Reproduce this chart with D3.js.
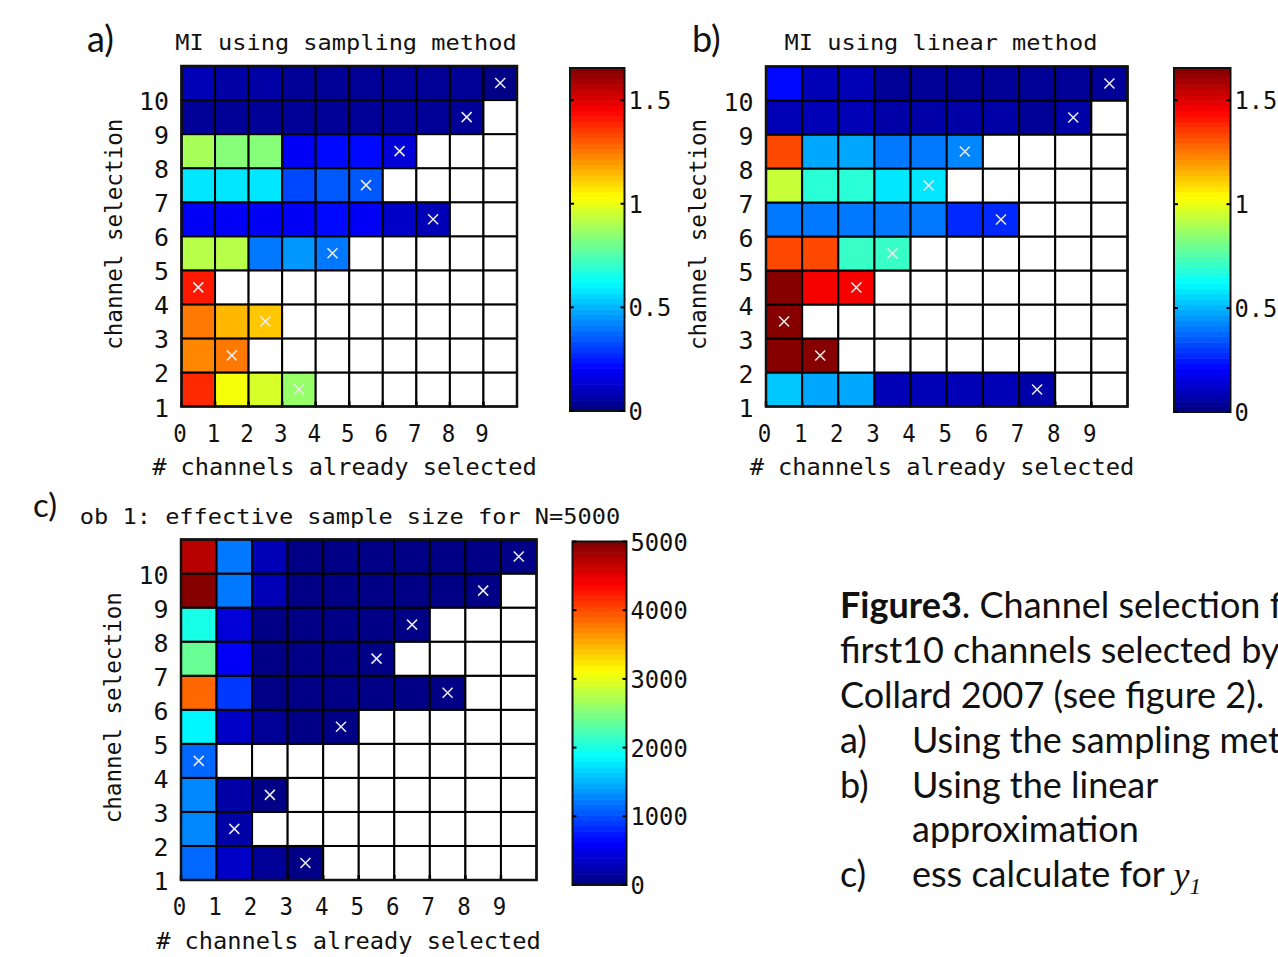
<!DOCTYPE html>
<html><head><meta charset="utf-8">
<script src="https://cdn.jsdelivr.net/npm/d3@7"></script>
<style>body{margin:0;background:#fff}svg{display:block}</style>
</head><body>
<svg id="fig" width="1278" height="957"></svg>
<script>
// ---------- data ----------
const xTicks = [0,1,2,3,4,5,6,7,8,9];
const yTicks = [1,2,3,4,5,6,7,8,9,10];
const N = null;
// rows listed from channel-selection row 1 (bottom) to row 10 (top); columns 0..9
const miSampling = [
  [1.39,1.03,0.98,0.87,N,N,N,N,N,N],
  [1.24,1.25,N,N,N,N,N,N,N,N],
  [1.25,1.14,1.12,N,N,N,N,N,N,N],
  [1.41,N,N,N,N,N,N,N,N,N],
  [0.93,0.93,0.41,0.45,0.40,N,N,N,N,N],
  [0.20,0.20,0.20,0.20,0.21,0.20,0.12,0.10,N,N],
  [0.59,0.59,0.59,0.33,0.34,0.35,N,N,N,N],
  [0.89,0.83,0.83,0.19,0.21,0.21,0.14,N,N,N],
  [0.03,0.03,0.03,0.03,0.03,0.03,0.03,0.03,0.04,N],
  [0.10,0.07,0.06,0.04,0.03,0.03,0.03,0.03,0.03,0.02]
];
const miLinear = [
  [0.54,0.49,0.49,0.08,0.08,0.08,0.08,0.07,N,N],
  [1.65,1.65,N,N,N,N,N,N,N,N],
  [1.65,N,N,N,N,N,N,N,N,N],
  [1.64,1.45,1.45,N,N,N,N,N,N,N],
  [1.32,1.32,0.70,0.70,N,N,N,N,N,N],
  [0.40,0.40,0.40,0.40,0.40,0.27,0.27,N,N,N],
  [0.94,0.68,0.68,0.57,0.57,N,N,N,N,N],
  [1.32,0.48,0.47,0.41,0.41,0.42,N,N,N,N],
  [0.08,0.08,0.08,0.07,0.07,0.07,0.06,0.05,0.06,N],
  [0.21,0.08,0.08,0.05,0.05,0.04,0.04,0.03,0.03,0.03]
];
const essValues = [
  [1160,350,90,60,N,N,N,N,N,N],
  [1300,210,N,N,N,N,N,N,N,N],
  [1280,210,60,N,N,N,N,N,N,N],
  [1110,N,N,N,N,N,N,N,N,N],
  [1870,350,90,60,60,N,N,N,N,N],
  [3900,870,60,60,60,60,60,60,N,N],
  [2360,550,60,60,60,60,N,N,N,N],
  [2000,450,60,60,60,60,60,N,N,N],
  [4940,1210,300,60,60,60,60,60,60,N],
  [4690,1210,300,60,60,60,60,60,60,60]
];
// column of the selected channel (x mark) per row 1..10
const marksSampling = [3,1,2,0,4,7,5,6,8,9];
const marksLinear   = [7,1,0,2,3,6,4,5,8,9];
const marksEss      = [3,1,2,0,4,7,5,6,8,9];
const miMax = 1.655, essMax = 5000;
const miCbTicks = [0,0.5,1,1.5];
const miCbLabels = ["0","0.5","1","1.5"];
const essCbTicks = [0,1000,2000,3000,4000,5000];
const essCbLabels = ["0","1000","2000","3000","4000","5000"];
const titles = ["MI using sampling method","MI using linear method","ob 1: effective sample size for N=5000"];
const xLabel = "# channels already selected";
const yLabel = "channel selection";
const panelLetters = ["a)","b)","c)"];

// ---------- drawing ----------
const svg = d3.select("#fig");
const MONO = "'DejaVu Sans Mono', 'Liberation Mono', monospace";
const TXT = "#111";

function jet(t){
  t = Math.max(0, Math.min(1, t));
  const q = Math.min(63, Math.floor(t*64));
  const tt = (q+0.5)/64;
  const f = v => Math.max(0, Math.min(1, v));
  return d3.rgb(255*f(1.5-Math.abs(4*tt-3)), 255*f(1.5-Math.abs(4*tt-2)), 255*f(1.5-Math.abs(4*tt-1))).formatHex();
}

function mono(g, str, x, y, anchor, size, cw){
  return g.append("text").attr("x", x).attr("y", y)
    .attr("text-anchor", anchor).attr("font-family", MONO)
    .attr("font-size", size).attr("fill", TXT)
    .attr("textLength", str.length*cw).attr("lengthAdjust","spacingAndGlyphs")
    .text(str);
}

function panel(cfg){
  const g = svg.append("g");
  const x = d3.scaleLinear().domain([0,10]).range([cfg.x0, cfg.x1]);
  const y = d3.scaleLinear().domain([1,11]).range([cfg.y1, cfg.y0]);
  const color = d3.scaleSequential(t => jet(t)).domain([0, cfg.max]).clamp(true);
  const cells = [];
  cfg.data.forEach((row, r) => row.forEach((v, c) => cells.push({r: r+1, c, v})));
  g.selectAll("rect.cell").data(cells).join("rect").attr("class","cell")
    .attr("x", d => x(d.c)).attr("y", d => y(d.r+1))
    .attr("width", d => x(d.c+1)-x(d.c)).attr("height", d => y(d.r)-y(d.r+1))
    .attr("fill", d => d.v == null ? "#fff" : color(d.v))
    .attr("stroke", "#000").attr("stroke-width", 2);
  // x marks
  g.selectAll("path.mark").data(cfg.marks.map((c, i) => ({c, r: i+1}))).join("path")
    .attr("class","mark")
    .attr("transform", d => `translate(${(x(d.c)+x(d.c+1))/2},${(y(d.r)+y(d.r+1))/2})`)
    .attr("d", "M-5,-5L5,5M-5,5L5,-5")
    .attr("stroke", "#e8e8e8").attr("stroke-width", 1.6).attr("fill","none");
  // inward ticks
  g.selectAll("line.xt").data(xTicks).join("line")
    .attr("x1", d => x(d)).attr("x2", d => x(d))
    .attr("y1", cfg.y1).attr("y2", cfg.y1-5).attr("stroke","#000").attr("stroke-width",2.5);
  // outer frame
  g.append("rect").attr("x", cfg.x0).attr("y", cfg.y0)
    .attr("width", cfg.x1-cfg.x0).attr("height", cfg.y1-cfg.y0)
    .attr("fill","none").attr("stroke","#111").attr("stroke-width",2.5);
  // tick labels
  xTicks.forEach(t => mono(g, String(t), x(t)-1.5, cfg.y1+35, "middle", 24, 13.5));
  yTicks.forEach(t => mono(g, String(t), cfg.x0-12.5, y(t)+10, "end", 24, 15));
  // axis labels
  mono(g, xLabel, cfg.xlabX, cfg.xlabY, "middle", 23, 14.25);
  const yl = g.append("g").attr("transform", `translate(${cfg.x0-60},${(cfg.y0+cfg.y1)/2-2}) rotate(-90)`);
  mono(yl, yLabel, 0, 0, "middle", 23, 13.6);
  mono(g, cfg.title, cfg.titleX, cfg.titleY, "middle", 22, 14.22);
  // panel letter
  g.append("text").attr("x", cfg.letterX).attr("y", cfg.letterY)
    .attr("font-family","Lato, 'Open Sans', sans-serif").attr("font-size", cfg.letterSize)
    .attr("fill", TXT).text(cfg.letter);

  // colorbar
  const cb = cfg.cb;
  const cy = d3.scaleLinear().domain([0, cfg.max]).range([cb.y1, cb.y0]);
  const bands = d3.range(64);
  g.selectAll("rect.cb").data(bands).join("rect").attr("class","cb")
    .attr("x", cb.x0).attr("width", cb.x1-cb.x0)
    .attr("y", i => cy((i+1)*cfg.max/64)).attr("height", i => cy(i*cfg.max/64)-cy((i+1)*cfg.max/64)+0.6)
    .attr("fill", i => jet((i+0.5)/64));
  g.append("rect").attr("x", cb.x0).attr("y", cb.y0).attr("width", cb.x1-cb.x0).attr("height", cb.y1-cb.y0)
    .attr("fill","none").attr("stroke","#111").attr("stroke-width",2);
  cfg.cbTicks.forEach((t, i) => {
    g.append("line").attr("x1", cb.x0).attr("x2", cb.x0+4).attr("y1", cy(t)).attr("y2", cy(t)).attr("stroke","#000").attr("stroke-width",2);
    g.append("line").attr("x1", cb.x1-4).attr("x2", cb.x1).attr("y1", cy(t)).attr("y2", cy(t)).attr("stroke","#000").attr("stroke-width",2);
    const lab = cfg.cbLabels[i];
    mono(g, lab, cb.x1+4, Math.min(cy(t)+9, cb.y1+9), "start", 24, 14.3);
  });
}

panel({data: miSampling, marks: marksSampling, max: miMax,
  x0:181.5, x1:517, y0:66, y1:406.5,
  title: titles[0], titleX:346, titleY:50, xlabX:344.5, xlabY:475,
  letter: panelLetters[0], letterX:87, letterY:52, letterSize:36,
  cb:{x0:570, x1:624.5, y0:68, y1:411}, cbTicks: miCbTicks, cbLabels: miCbLabels});
panel({data: miLinear, marks: marksLinear, max: miMax,
  x0:766, x1:1127.5, y0:66.5, y1:406.5,
  title: titles[1], titleX:941, titleY:50, xlabX:942, xlabY:475,
  letter: panelLetters[1], letterX:692, letterY:52, letterSize:36,
  cb:{x0:1174, x1:1230.5, y0:68, y1:412}, cbTicks: miCbTicks, cbLabels: miCbLabels});
panel({data: essValues, marks: marksEss, max: essMax,
  x0:181, x1:536.5, y0:539.5, y1:880,
  title: titles[2], titleX:350, titleY:524, xlabX:348.5, xlabY:949,
  letter: panelLetters[2], letterX:33, letterY:517, letterSize:33,
  cb:{x0:572.5, x1:626.5, y0:541.5, y1:885}, cbTicks: essCbTicks, cbLabels: essCbLabels});

// ---------- caption ----------
const capFont = "Lato, 'Open Sans', sans-serif";
const cap = svg.append("g").attr("font-family", capFont).attr("font-size", 36).attr("fill", TXT);
const capLines = [
  {y:618, x:840, parts:[["Figure3","bold"],[". Channel selection for",""]]},
  {y:663, x:840, parts:[["first10 channels selected by",""]]},
  {y:708, x:840, parts:[["Collard 2007 (see figure 2).",""]]}
];
capLines.forEach(l => {
  const t = cap.append("text").attr("x", l.x).attr("y", l.y);
  l.parts.forEach(p => t.append("tspan").attr("font-weight", p[1] === "bold" ? 700 : 400).text(p[0]));
});
const items = [
  {y:753, k:"a)", txt:"Using the sampling method"},
  {y:798, k:"b)", txt:"Using the linear"},
  {y:842, k:"",   txt:"approximation"},
  {y:887, k:"c)", txt:"ess calculate for "}
];
items.forEach((it, i) => {
  if (it.k) cap.append("text").attr("x", 840).attr("y", it.y).text(it.k);
  const t = cap.append("text").attr("x", 912).attr("y", it.y).text(it.txt);
  if (i === 3) {
    t.append("tspan").attr("font-family","'Liberation Serif', 'DejaVu Serif', serif").attr("font-style","italic").text("y");
    t.append("tspan").attr("font-family","'Liberation Serif', 'DejaVu Serif', serif").attr("font-style","italic")
      .attr("font-size", 23).attr("dy", 7).text("1");
  }
});
</script>
</body></html>
